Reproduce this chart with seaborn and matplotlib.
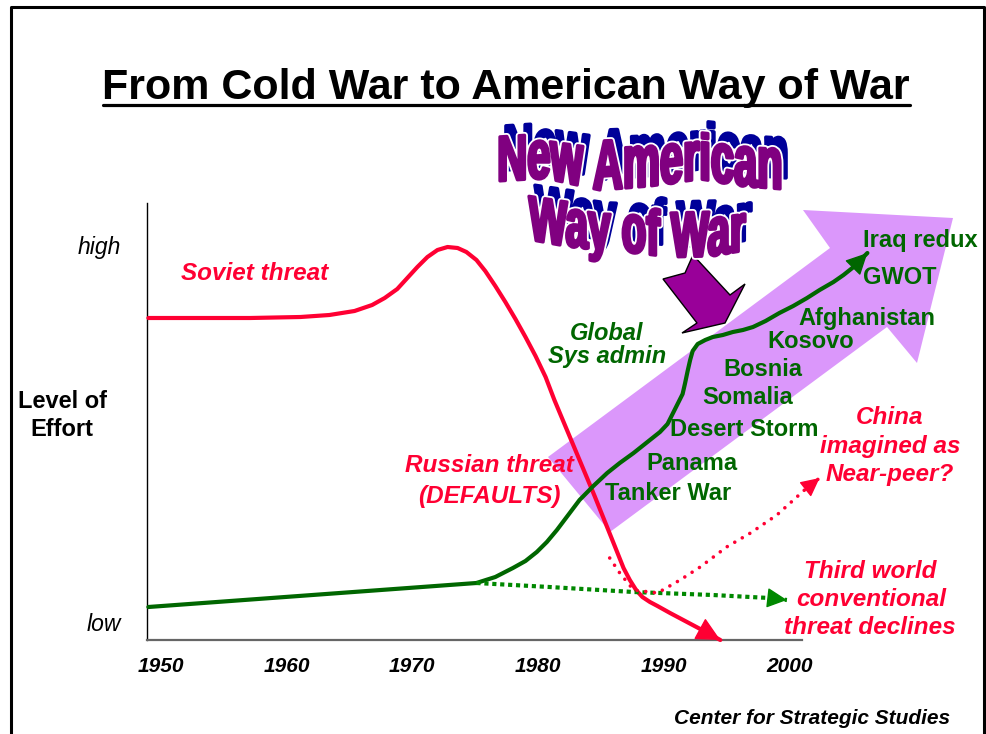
import numpy as np
import matplotlib
matplotlib.use("Agg")
import matplotlib.pyplot as plt
import seaborn as sns
from matplotlib.transforms import Affine2D
from matplotlib.path import Path
from matplotlib.patches import PathPatch, Polygon
from matplotlib.textpath import TextPath
from matplotlib.font_manager import FontProperties
from matplotlib.lines import Line2D
from matplotlib import font_manager as fm

# ---------------- data (level of effort in arbitrary units, 0 = axis) ----------------
YEAR_TICKS = [1950, 1960, 1970, 1980, 1990, 2000]
EFFORT_TICKS = [18, 395]
EFFORT_LABELS = ["low", "high"]

soviet_year = [1949.0, 1953.1, 1957.1, 1961.1, 1963.4, 1965.4, 1966.8, 1967.8, 1968.8,
               1969.6, 1970.4, 1971.2, 1972.0, 1972.8, 1973.6, 1974.3, 1975.1, 1975.8,
               1976.6, 1977.4, 1978.2, 1979.0, 1979.8, 1980.6, 1981.3, 1982.1, 1982.9,
               1983.7, 1984.5, 1985.3, 1986.1, 1986.8, 1987.3, 1987.8, 1988.3, 1988.9,
               1989.5, 1990.5, 1991.7, 1992.9, 1994.5]
soviet_level = [322, 322, 322, 323, 325, 329, 335, 342, 351,
                362, 373, 383, 390, 393, 392, 388, 380, 369,
                354, 338, 321, 303, 284, 263, 240, 216, 192,
                168, 144, 119, 94, 72, 60, 50, 43, 38,
                34, 27, 19, 11, 0]

american_year = [1949.0, 1975.1, 1976.6, 1978.0, 1979.0, 1979.9, 1980.7, 1981.5, 1982.4,
                 1983.3, 1984.4, 1985.5, 1986.5, 1987.6, 1988.6, 1989.7, 1990.3, 1990.7,
                 1991.1, 1991.5, 1991.7, 1991.9, 1992.1, 1992.3, 1992.7, 1993.3, 1993.9,
                 1994.7, 1995.5, 1996.3, 1997.1, 1998.1, 1999.2, 2000.3, 2001.4, 2002.4,
                 2003.5, 2004.3, 2005.1, 2006.2]
american_level = [33, 57, 63, 72, 79, 88, 98, 110, 125,
                  140, 154, 167, 177, 187, 197, 208, 216, 226,
                  236, 246, 257, 269, 280, 289, 296, 300, 303,
                  305, 308, 310, 313, 319, 327, 334, 342, 350,
                  358, 365, 373, 387]

third_world_year = [1975.1, 1980.9, 1987.6, 1993.9, 1998.4, 1999.8]
third_world_level = [57, 53, 48, 45, 42, 40]

china_year = [1985.7, 1986.5, 1987.6, 1989.5, 1991.3, 1992.9, 1995.0, 1996.9, 1999.0, 2001.2, 2002.4]
china_level = [82, 67, 50, 47, 60, 73, 93, 107, 125, 150, 162]

EVENTS = ["Tanker War", "Panama", "Desert Storm", "Somalia", "Bosnia",
          "Kosovo", "Afghanistan", "GWOT", "Iraq redux"]

# ---------------- style ----------------
sns.set_style("white")
plt.rcParams["font.family"] = ["Liberation Sans", "DejaVu Sans"]
for k in ["text.color", "axes.labelcolor", "xtick.color", "ytick.color"]:
    plt.rcParams[k] = "black"

RED = "#FF0033"
GREEN = "#006600"
DOT_GREEN = "#008800"
LAVENDER = "#DB97FB"
PURPLE = "#990099"

W, H = 987, 734
fig = plt.figure(figsize=(W / 100, H / 100), dpi=100)
ax = fig.add_axes([0, 0, 1, 1])
ax.patch.set_facecolor("white")

# year 1975 at x=475.2 px, 12.57 px/yr ; level 0 at y=640 px, 1 px/unit
ax.set_xlim(1937.196, 2015.716)
ax.set_ylim(-94, 640)

pix = Affine2D().scale(1 / W, -1 / H).translate(0, 1) + fig.transFigure

for s in ["top", "right"]:
    ax.spines[s].set_visible(False)
ax.spines["left"].set_position(("data", 1948.9))
ax.spines["left"].set_bounds(0, 437)
ax.spines["left"].set_color("black")
ax.spines["left"].set_linewidth(1.0)
ax.spines["bottom"].set_position(("data", 0))
ax.spines["bottom"].set_bounds(1948.9, 2001.0)
ax.spines["bottom"].set_color("#666666")
ax.spines["bottom"].set_linewidth(1.6)
ax.set_xticks(YEAR_TICKS, labels=[str(y) for y in YEAR_TICKS], fontsize=15,
              fontweight="bold", fontstyle="italic")
ax.set_yticks(EFFORT_TICKS, labels=EFFORT_LABELS, fontsize=16.5, fontstyle="italic")
ax.tick_params(axis="x", length=0, pad=12, colors="black")
ax.tick_params(axis="y", length=0, pad=19, colors="black")
ax.grid(False)

# ---------------- big lavender arrow ----------------
big_arrow = [(548, 457), (610, 532), (887, 327), (917, 363), (953, 218), (803, 210), (830, 248)]
ax.add_patch(Polygon(big_arrow, closed=True, fc=LAVENDER, ec="none", transform=pix, zorder=1))

# ---------------- lines ----------------
common = dict(ax=ax, sort=False, estimator=None, zorder=3)
sns.lineplot(x=soviet_year, y=soviet_level, color=RED, linewidth=3,
             solid_capstyle="round", solid_joinstyle="round", **common)
sns.lineplot(x=american_year, y=american_level, color=GREEN, linewidth=3,
             solid_capstyle="round", solid_joinstyle="round", **common)
sns.lineplot(x=third_world_year, y=third_world_level, color=DOT_GREEN, linewidth=3,
             linestyle=(0, (1, 0.9)), dash_capstyle="butt", **common)
sns.lineplot(x=china_year, y=china_level, color=RED, linewidth=2.6,
             linestyle=(0, (0.01, 2.4)), dash_capstyle="round", **common)


def head(xs, ys, color, scale):
    ax.annotate("", xy=(xs[-1], ys[-1]), xytext=(xs[-2], ys[-2]),
                arrowprops=dict(arrowstyle="-|>,head_length=0.9,head_width=0.45",
                                color=color, lw=1, shrinkA=0, shrinkB=0,
                                mutation_scale=scale), zorder=4)


head(soviet_year, soviet_level, RED, 17)
head(american_year, american_level, GREEN, 15)
head(third_world_year, third_world_level, DOT_GREEN, 14)
head(china_year, china_level, RED, 13)

# ---------------- purple pointer arrow ----------------
pointer = [(693, 255), (730, 295), (745, 284), (725, 323), (682, 333), (697, 323), (663, 279), (685, 273)]
ax.add_patch(Polygon(pointer, closed=True, fc=PURPLE, ec="black", lw=1, transform=pix, zorder=5))

# ---------------- texts ----------------
def T(x, y, s, **kw):
    kw.setdefault("va", "center")
    kw.setdefault("ha", "center")
    return ax.text(x, y, s, transform=pix, zorder=6, **kw)


T(506, 99, "From Cold War to American Way of War", fontsize=31, fontweight="bold",
  va="baseline", color="black")
ax.add_line(Line2D([103, 910], [104.5, 104.5], color="black", lw=2.3, transform=pix))

T(62, 402, "Level of", fontsize=17, fontweight="bold")
T(62, 430, "Effort", fontsize=17, fontweight="bold")

red_it = dict(color=RED, fontsize=17.5, fontweight="bold", fontstyle="italic")
T(255, 273, "Soviet threat", **red_it)
T(489, 466, "Russian threat", **red_it)
T(489, 497, "(DEFAULTS)", **red_it)
T(890, 418, "China", **red_it)
T(890, 447, "imagined as", **red_it)
T(890, 475, "Near-peer?", **red_it)
T(870, 572, "Third world", **red_it)
T(871, 600, "conventional", **red_it)
T(870, 628, "threat declines", **red_it)

T(607, 333, "Global", color=GREEN, fontsize=17, fontweight="bold", fontstyle="italic")
T(607, 357, "Sys admin", color=GREEN, fontsize=17, fontweight="bold", fontstyle="italic")

event_pos = [(605, 493), (646, 463), (670, 430), (702, 398), (723, 370),
             (767, 342), (798, 318), (863, 277), (863, 240)]
for name, (x, y) in zip(EVENTS, event_pos):
    T(x, y, name, color=GREEN, fontsize=17, fontweight="bold", ha="left")

T(950, 719, "Center for Strategic Studies", fontsize=15, fontweight="bold",
  fontstyle="italic", ha="right")

# ---------------- slide frame ----------------
ax.add_line(Line2D([11, 11, 984, 984], [740, 7, 7, 740], color="black", lw=2.2,
                   transform=pix, zorder=8))

# ---------------- WordArt ----------------
names = {f.name for f in fm.fontManager.ttflist}
wa_family = "Liberation Sans Narrow" if "Liberation Sans Narrow" in names else "Liberation Sans"
wa_fp = FontProperties(family=wa_family, weight="bold")
capH = TextPath((0, 0), "H", size=100, prop=wa_fp).get_extents().height
xH = TextPath((0, 0), "x", size=100, prop=wa_fp).get_extents().height / capH


def wordart(text, x0, x1, ctrl_x, ctrl_base, ctrl_cap):
    tp = TextPath((0, 0), text, size=100, prop=wa_fp)
    ext = tp.get_extents()
    v = tp.vertices
    px_ = x0 + (v[:, 0] - ext.x0) * (x1 - x0) / ext.width
    base = np.interp(px_, ctrl_x, ctrl_base)
    cap = np.interp(px_, ctrl_x, ctrl_cap)
    t = v[:, 1] / capH
    mapped = np.interp(t, [-1, 0, xH, 1, 2], [-0.9, 0, 0.84, 1, 2])
    py_ = base - mapped * cap
    layers = [(6, -11, "#000099", "#000099", 2.6, 9),
              (0, 0, "white", "white", 5.0, 10),
              (0, 0, "#800080", "#800080", 2.4, 11)]
    for dx, dy, fc, ec, lw, z in layers:
        p = Path(np.column_stack([px_ + dx, py_ + dy]), tp.codes)
        ax.add_patch(PathPatch(p, fc=fc, ec=ec, lw=lw, transform=pix, zorder=z,
                               joinstyle="round"))


wordart("New American", 500, 780,
        [498, 545, 600, 650, 700, 745, 782],
        [181, 178, 190, 186, 179, 186, 189],
        [44, 44, 49, 47, 44, 46, 47])
wordart("Way of War", 529, 745,
        [527, 560, 600, 630, 670, 710, 747],
        [239, 245, 250, 252, 257, 256, 250],
        [43, 44, 43, 44, 44, 44, 43])

fig.savefig("out.png", dpi=100)
